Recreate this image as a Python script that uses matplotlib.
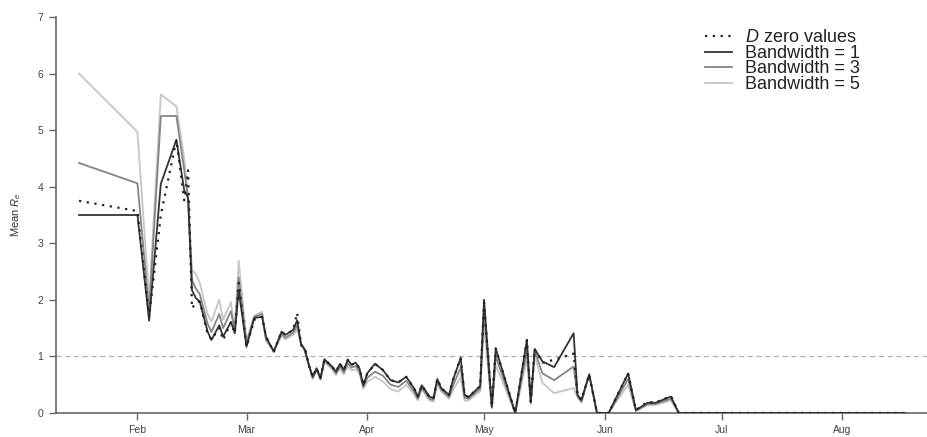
import matplotlib
matplotlib.use("Agg")
import matplotlib.pyplot as plt
import matplotlib.dates as mdates
import numpy as np

plt.rcParams['font.family'] = ['Liberation Sans Narrow', 'Liberation Sans', 'DejaVu Sans']
plt.rcParams['mathtext.fontset'] = 'custom'
plt.rcParams['mathtext.it'] = 'Liberation Sans:italic'
plt.rcParams['mathtext.rm'] = 'Liberation Sans'

# observation dates and mean Re for each estimate
dates = ['2009-01-17', '2009-02-01', '2009-02-04', '2009-02-07', '2009-02-11', '2009-02-13',
         '2009-02-14', '2009-02-15', '2009-02-16', '2009-02-17', '2009-02-19', '2009-02-20',
         '2009-02-22', '2009-02-23', '2009-02-25', '2009-02-26', '2009-02-27', '2009-03-01',
         '2009-03-03', '2009-03-05', '2009-03-06', '2009-03-08', '2009-03-10', '2009-03-11',
         '2009-03-13', '2009-03-14', '2009-03-15', '2009-03-16', '2009-03-17', '2009-03-18',
         '2009-03-19', '2009-03-20', '2009-03-21', '2009-03-23', '2009-03-24', '2009-03-25',
         '2009-03-26', '2009-03-27', '2009-03-28', '2009-03-29', '2009-03-30', '2009-03-31',
         '2009-04-01', '2009-04-03', '2009-04-05', '2009-04-07', '2009-04-09', '2009-04-11',
         '2009-04-13', '2009-04-14', '2009-04-15', '2009-04-17', '2009-04-18', '2009-04-19',
         '2009-04-20', '2009-04-22', '2009-04-23', '2009-04-25', '2009-04-26', '2009-04-27',
         '2009-04-29', '2009-04-30', '2009-05-01', '2009-05-03', '2009-05-04', '2009-05-09',
         '2009-05-12', '2009-05-13', '2009-05-14', '2009-05-16', '2009-05-19', '2009-05-24',
         '2009-05-25', '2009-05-26', '2009-05-28', '2009-05-30', '2009-06-02', '2009-06-07',
         '2009-06-09', '2009-06-12', '2009-06-14', '2009-06-18', '2009-06-20', '2009-08-17']

d_zero = [3.75, 3.57, 1.70, 3.50, 4.83, 3.76, 4.29, 1.85, 1.95, 1.97, 1.40, 1.30,
          1.50, 1.29, 1.60, 1.41, 2.30, 1.17, 1.65, 1.70, 1.35, 1.08, 1.44, 1.38,
          1.47, 1.77, 1.20, 1.15, 0.85, 0.64, 0.79, 0.62, 0.95, 0.82, 0.73, 0.87,
          0.76, 0.94, 0.85, 0.89, 0.79, 0.49, 0.70, 0.87, 0.76, 0.58, 0.54, 0.64,
          0.44, 0.29, 0.49, 0.28, 0.26, 0.60, 0.44, 0.32, 0.58, 0.97, 0.32, 0.28,
          0.41, 0.47, 1.95, 0.11, 1.14, 0.00, 1.29, 0.20, 1.13, 0.89, 0.94, 1.05,
          0.32, 0.23, 0.68, 0.00, 0.00, 0.70, 0.05, 0.20, 0.18, 0.30, 0.00, 0.00]

bw1 = [3.50, 3.50, 1.63, 4.05, 4.83, 3.94, 3.80, 2.17, 2.03, 1.97, 1.44, 1.29,
       1.55, 1.35, 1.61, 1.41, 2.17, 1.17, 1.68, 1.70, 1.35, 1.08, 1.44, 1.38,
       1.47, 1.64, 1.22, 1.12, 0.85, 0.64, 0.79, 0.62, 0.95, 0.82, 0.73, 0.87,
       0.76, 0.94, 0.85, 0.89, 0.79, 0.49, 0.70, 0.87, 0.76, 0.58, 0.54, 0.64,
       0.44, 0.29, 0.49, 0.29, 0.26, 0.60, 0.44, 0.32, 0.58, 0.97, 0.32, 0.28,
       0.41, 0.47, 2.00, 0.11, 1.14, 0.00, 1.29, 0.20, 1.13, 0.91, 0.81, 1.41,
       0.32, 0.23, 0.68, 0.00, 0.00, 0.70, 0.05, 0.18, 0.18, 0.29, 0.00, 0.00]

bw3 = [4.42, 4.06, 1.80, 5.25, 5.25, 4.30, 3.80, 2.35, 2.20, 2.10, 1.58, 1.43,
       1.75, 1.50, 1.80, 1.45, 2.40, 1.22, 1.70, 1.75, 1.30, 1.10, 1.40, 1.33,
       1.42, 1.55, 1.22, 1.10, 0.85, 0.62, 0.77, 0.60, 0.93, 0.80, 0.70, 0.83,
       0.72, 0.88, 0.80, 0.83, 0.74, 0.46, 0.62, 0.73, 0.66, 0.50, 0.46, 0.57,
       0.38, 0.25, 0.45, 0.25, 0.23, 0.56, 0.41, 0.28, 0.48, 0.80, 0.27, 0.25,
       0.37, 0.42, 1.80, 0.10, 1.00, 0.00, 1.10, 0.18, 1.10, 0.70, 0.58, 0.82,
       0.30, 0.20, 0.68, 0.00, 0.00, 0.60, 0.04, 0.16, 0.16, 0.25, 0.00, 0.00]

bw5 = [6.00, 4.97, 2.00, 5.63, 5.42, 4.50, 3.80, 2.53, 2.45, 2.30, 1.75, 1.62,
       2.00, 1.65, 1.96, 1.50, 2.69, 1.29, 1.72, 1.79, 1.28, 1.12, 1.35, 1.30,
       1.38, 1.48, 1.22, 1.08, 0.85, 0.60, 0.75, 0.58, 0.90, 0.77, 0.67, 0.78,
       0.68, 0.82, 0.75, 0.77, 0.70, 0.43, 0.55, 0.64, 0.56, 0.42, 0.38, 0.50,
       0.33, 0.22, 0.42, 0.22, 0.20, 0.52, 0.38, 0.25, 0.40, 0.63, 0.22, 0.22,
       0.33, 0.38, 1.55, 0.08, 0.85, 0.00, 0.95, 0.15, 1.02, 0.53, 0.35, 0.44,
       0.28, 0.18, 0.68, 0.00, 0.00, 0.50, 0.03, 0.14, 0.14, 0.22, 0.00, 0.00]

x = np.array(dates, dtype='datetime64[D]')

fig = plt.figure(figsize=(9.28, 4.37), dpi=100)
ax = fig.add_axes([0.060, 0.055, 0.94, 0.906])

ax.axhline(1, color='#b0b0b0', linewidth=0.9, linestyle=(0, (4, 3)), zorder=1)

ax.plot(x, bw5, color='#c6c6c6', linewidth=1.3, label='Bandwidth = 5', zorder=2)
ax.plot(x, bw3, color='#858585', linewidth=1.3, label='Bandwidth = 3', zorder=3)
ax.plot(x, bw1, color='#333333', linewidth=1.3, label='Bandwidth = 1', zorder=4)
ax.plot(x, d_zero, color='#222222', linewidth=1.6, linestyle=(0, (1, 2.5)),
        label='$D$ zero values', zorder=5)

ax.set_ylim(0, 7)
ax.set_yticks(range(0, 8))
ax.set_xlim(np.datetime64('2009-01-11'), np.datetime64('2009-08-23'))
ax.xaxis.set_major_locator(mdates.MonthLocator(bymonth=range(2, 9)))
ax.xaxis.set_major_formatter(mdates.DateFormatter('%b'))

for s in ['top', 'right']:
    ax.spines[s].set_visible(False)
for s in ['left', 'bottom']:
    ax.spines[s].set_color('#666666')
    ax.spines[s].set_linewidth(1.2)
ax.tick_params(axis='both', colors='#666666', labelcolor='#444444', labelsize=7.5,
               length=5, width=1)
ax.tick_params(axis='x', pad=4)
ax.tick_params(axis='y', pad=4)

ax.set_ylabel('Mean $R_e$', fontsize=8, color='#333333', labelpad=10)

h, l = ax.get_legend_handles_labels()
order = [3, 2, 1, 0]
leg = ax.legend([h[i] for i in order], [l[i] for i in order], loc='upper right',
                bbox_to_anchor=(0.94, 1.01), frameon=False,
                labelspacing=-0.08, handlelength=1.5, handletextpad=0.7,
                prop={'family': ['Liberation Sans', 'DejaVu Sans'], 'size': 13})
for t in leg.get_texts():
    t.set_color('#222222')

fig.savefig('out.png', dpi=100)
